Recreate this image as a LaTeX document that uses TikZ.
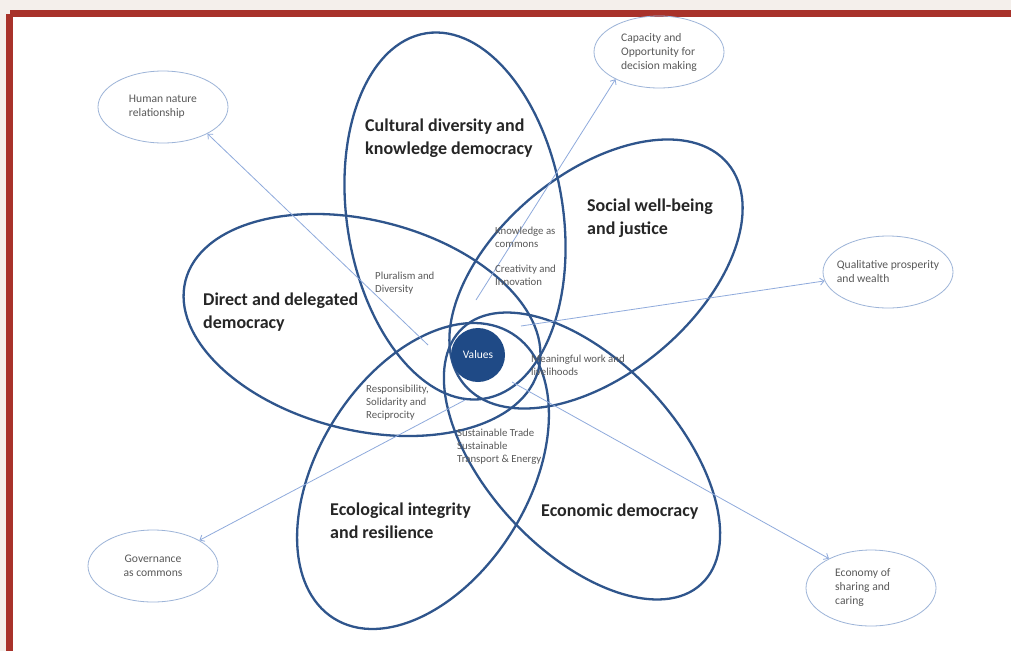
\documentclass[tikz,border=0pt]{standalone}
\usepackage{fontspec}
\setmainfont{Carlito}
\usetikzlibrary{shapes.geometric,arrows.meta}
\definecolor{framec}{HTML}{A8322A}
\definecolor{bgc}{HTML}{F4EFEB}
\definecolor{petalc}{HTML}{2F558C}
\definecolor{corec}{HTML}{1F4A86}
\definecolor{arrowc}{HTML}{8FAADC}
\definecolor{satc}{HTML}{9DB4D8}
\definecolor{txtc}{HTML}{262626}
\definecolor{smalltxtc}{HTML}{595959}
\begin{document}
\begin{tikzpicture}[x=1pt,y=-1pt,
 petal/.style={draw=petalc, line width=2.3pt},
 sat/.style={ellipse, draw=satc, line width=0.8pt, minimum width=130pt, minimum height=72pt, inner sep=0pt},
 sattext/.style={font=\fontsize{11.6}{14}\selectfont, text=smalltxtc, align=left, inner sep=0pt},
 big/.style={font=\fontsize{18}{23}\selectfont\bfseries, text=txtc, align=left, anchor=base west, inner sep=0pt},
 small/.style={font=\fontsize{10.8}{13}\selectfont, text=smalltxtc, align=left, anchor=base west, inner sep=0pt},
 link/.style={draw=arrowc, line width=0.8pt, -{Straight Barb[length=4pt,width=7pt]}}
]
\useasboundingbox (0,0) rectangle (1011,651);
\fill[bgc] (0,0) rectangle (1011,651);
\fill[white] (13,17) rectangle (1011,651);
\fill[framec] (10,10) rectangle (1011,17);
\fill[framec] (6,14) rectangle (13,651);

% petals
\draw[petal, rotate around={9:(455,216)}] (455,216) ellipse [x radius=108pt, y radius=185pt];
\draw[petal, rotate around={40:(596,274)}] (596,274) ellipse [x radius=172pt, y radius=100pt];
\draw[petal, rotate around={-14:(362,325)}] (362,325) ellipse [x radius=182pt, y radius=105pt];
\draw[petal, rotate around={58:(423,476)}] (423,476) ellipse [x radius=168pt, y radius=105pt];
\draw[petal, rotate around={-47:(582,456)}] (582,456) ellipse [x radius=175pt, y radius=95pt];

% satellites
\node[sat] (hum) at (163,107) {};
\node[sat] (cap) at (659,52) {};
\node[sat] (qual) at (888,272) {};
\node[sat] (gov) at (153,566) {};
\node[sat, minimum height=76pt] (eco) at (871,588) {};
\node[sattext] (humt) at (hum.center) {Human nature\\relationship};
\node[sattext] (capt) at (cap.center) {Capacity and\\Opportunity for\\decision making};
\node[sattext] (qualt) at (qual.center) {Qualitative prosperity\\and wealth};
\node[sattext, align=center] (govt) at (gov.center) {Governance\\as commons};
\node[sattext, anchor=west] (ecot) at (835,588) {Economy of\\sharing and\\caring};

% arrow origins
\coordinate (s1) at (428,345);
\coordinate (s2) at (476,300);
\coordinate (s3) at (521,326);
\coordinate (s4) at (465,400);
\coordinate (s5) at (512,382);
\draw[link] (s1) -- (hum.-31);
\draw[link] (s2) -- (cap.212);
\draw[link] (s3) -- (qual.188);
\draw[link] (s4) -- (gov.29);
\draw[link] (s5) -- (eco.145);

% big labels (anchor = baseline of last line)
\node[big] (lcult) at (365,154) {Cultural diversity and\\knowledge democracy};
\node[big] (lsoc) at (587,234) {Social well-being\\and justice};
\node[big] (ldir) at (203,328) {Direct and delegated\\democracy};
\node[big] (leco) at (330,538) {Ecological integrity\\and resilience};
\node[big] (lecon) at (541,516) {Economic democracy};

% small labels (anchor = baseline of last line)
\node[small] (plur) at (375,292) {Pluralism and\\Diversity};
\node[small] (know) at (495,247) {Knowledge as\\commons};
\node[small] (crea) at (495,285) {Creativity and\\Innovation};
\node[small] (mean) at (531,375) {Meaningful work and\\livelihoods};
\node[small] (resp) at (366,418) {Responsibility,\\Solidarity and\\Reciprocity};
\node[small] (sust) at (457,462) {Sustainable Trade\\Sustainable\\Transport \& Energy};

% core
\node[circle, fill=corec, minimum size=54pt, inner sep=0pt, text=white, font=\fontsize{11.5}{13}\selectfont] (values) at (478,355) {Values};
\end{tikzpicture}
\end{document}
